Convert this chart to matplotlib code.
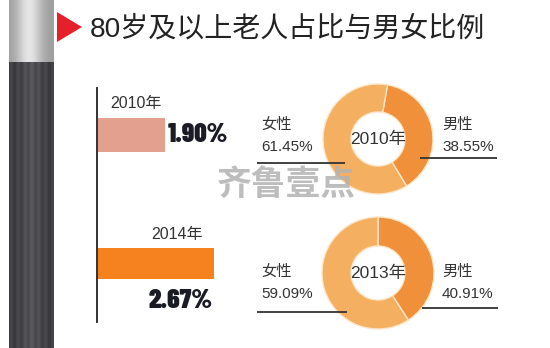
import numpy as np
import matplotlib
matplotlib.use("Agg")
import matplotlib.pyplot as plt
from matplotlib.patches import Polygon

plt.rcParams['font.family'] = ['Liberation Sans', 'Noto Sans CJK SC', 'DejaVu Sans']

# ---- data ----
title = "80岁及以上老人占比与男女比例"
bar_years = ["2010年", "2014年"]
share_80plus = [1.90, 2.67]          # % of population aged 80+
donut_years = ["2010年", "2013年"]
male_pct = [38.55, 40.91]
female_pct = [61.45, 59.09]
male_label = "男性"
female_label = "女性"
watermark = "齐鲁壹点"

W, H = 550, 348
fig = plt.figure(figsize=(W / 100, H / 100), dpi=100)
fig.patch.set_facecolor("white")

VALUE_FONT = ["Barlow Condensed", "DejaVu Sans"]


def rect(x, y, w, h):
    return [x / W, 1 - (y + h) / H, w / W, h / H]


# ---- background layer: side strip, marker, title ----
bg = fig.add_axes([0, 0, 1, 1], zorder=0)
bg.axis("off")

# vertical strip on the left (silver cap over charcoal body)
cols = np.linspace(0, 1, 45)
silver = 0.62 + 0.28 * np.exp(-((cols - 0.45) / 0.28) ** 2)
dark = 0.24 + 0.08 * np.exp(-((cols - 0.5) / 0.25) ** 2) + 0.03 * np.sin(cols * 40)
strip = np.zeros((H, 45, 3))
strip[:62] = silver[None, :, None]
strip[62:] = dark[None, :, None]
strip[62:, :, 2] += 0.02
bg.imshow(np.clip(strip, 0, 1), extent=(9, 54, H, 0), aspect="auto",
          interpolation="bilinear", zorder=1)
bg.set_xlim(0, W)
bg.set_ylim(H, 0)

bg.add_patch(Polygon([[57, 12], [57, 42], [82, 27]], closed=True,
                     facecolor="#E6202A", edgecolor="none", zorder=2))
bg.text(90, 29, title, fontsize=20.2, color="#222222", ha="left", va="center")

# ---- bar chart ----
bar_px_per_unit = 63.8
x_axis_left = 0.837
axb = fig.add_axes(rect(97, 88, 160, 234), zorder=1)
axb.patch.set_alpha(0)
pos = np.arange(len(share_80plus))
bar_colors = ["#E3A08E", "#F5821F"]
axb.barh(pos, share_80plus, height=[0.265, 0.245], color=bar_colors, zorder=2)
axb.set_xlim(x_axis_left, x_axis_left + 160 / bar_px_per_unit)
axb.set_ylim(1.455, -0.366)
for s in ["top", "right", "bottom"]:
    axb.spines[s].set_visible(False)
axb.spines["left"].set_linewidth(1.4)
axb.spines["left"].set_color("#333333")
axb.set_xticks([])
axb.set_yticks([])

# year labels and value labels
axb.annotate(bar_years[0], xy=(share_80plus[0], pos[0]), xytext=(-2, 23),
             textcoords="offset points", ha="right", va="center",
             fontsize=11.5, color="#333333")
axb.annotate(bar_years[1], xy=(share_80plus[1], pos[1]), xytext=(-8, 21),
             textcoords="offset points", ha="right", va="center",
             fontsize=11.5, color="#333333")
axb.annotate(f"{share_80plus[0]:.2f}%", xy=(share_80plus[0], pos[0]),
             xytext=(2, 0), textcoords="offset points", ha="left", va="center",
             fontsize=19.5, fontweight=900, color="#1b1b26",
             family=VALUE_FONT)
axb.annotate(f"{share_80plus[1]:.2f}%", xy=(share_80plus[1], pos[1]),
             xytext=(-1, -27), textcoords="offset points", ha="right",
             va="center", fontsize=19.5, fontweight=900, color="#1b1b26",
             family=VALUE_FONT)

# ---- donuts ----
donut_specs = [((378, 139), 55, 80), ((378, 273), 56, 90)]
female_color = "#F5AF60"
male_color = "#F0903A"
for ((cx, cy), r, start), yr, m, f in zip(donut_specs, donut_years,
                                          male_pct, female_pct):
    ax = fig.add_axes(rect(cx - r, cy - r, 2 * r, 2 * r), zorder=1)
    ax.pie([m, f], colors=[male_color, female_color], startangle=start,
           counterclock=False, radius=1,
           wedgeprops=dict(width=1 - 27 / r, edgecolor="#FCE6C8", linewidth=1))
    ax.set_xlim(-1, 1)
    ax.set_ylim(-1, 1)
    ax.set_aspect("equal")
    ax.axis("off")
    ax.text(0, 0, yr, ha="center", va="center", fontsize=12.5, color="#333333")

# ---- foreground: donut labels, leader lines, watermark ----
fg = fig.add_axes([0, 0, 1, 1], zorder=5)
fg.patch.set_alpha(0)
fg.set_xlim(0, W)
fg.set_ylim(H, 0)
fg.axis("off")

label_rows = [(125, 147, (257, 345, 163), (420, 497, 158)),
              (272, 294, (257, 347, 312), (422, 498, 308))]
for (ty, vy, lline, rline), m, f in zip(label_rows, male_pct, female_pct):
    fg.text(261, ty, female_label, fontsize=11, color="#333333",
            ha="left", va="center")
    fg.text(261, vy, f"{f:.2f}%", fontsize=11, color="#333333",
            ha="left", va="center")
    fg.text(442, ty, male_label, fontsize=11, color="#333333",
            ha="left", va="center")
    fg.text(442, vy, f"{m:.2f}%", fontsize=11, color="#333333",
            ha="left", va="center")
    fg.plot(lline[:2], [lline[2]] * 2, color="#333333", lw=1.3,
            solid_capstyle="butt")
    fg.plot(rline[:2], [rline[2]] * 2, color="#333333", lw=1.3,
            solid_capstyle="butt")

fg.text(286, 185, watermark, fontsize=25, fontweight="bold", color="#B2B2B2",
        alpha=0.85, ha="center", va="center",
        family=["Noto Sans CJK SC", "DejaVu Sans"])

fig.savefig("out.png", dpi=100, facecolor="white")
